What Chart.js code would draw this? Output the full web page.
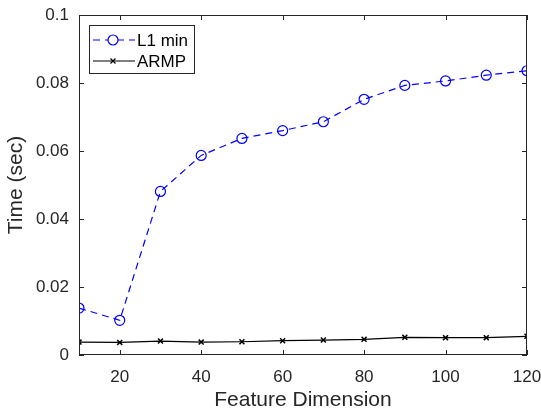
<!DOCTYPE html>
<html lang="en">
<head>
    <meta charset="utf-8">
    <title>Time vs Feature Dimension</title>
    <style>
        html, body { margin: 0; padding: 0; background: #fff; }
        #wrap { width: 541px; height: 414px; }
    </style>
</head>
<body>
    <div id="wrap"><canvas id="chart" width="541" height="414"></canvas></div>

    <script src="https://cdn.jsdelivr.net/npm/chart.js"></script>
    <script>
        const dims = [10, 20, 30, 40, 50, 60, 70, 80, 90, 100, 110, 120];
        const l1Min = [0.0138, 0.0102, 0.0481, 0.0587, 0.0637, 0.0660, 0.0686, 0.0752, 0.0793, 0.0806, 0.0823, 0.0836];
        const armp = [0.0038, 0.0037, 0.0041, 0.0038, 0.0039, 0.0042, 0.0044, 0.0046, 0.0052, 0.0051, 0.0051, 0.0055];
        const xTicks = [20, 40, 60, 80, 100, 120];
        const yTicks = [0, 0.02, 0.04, 0.06, 0.08, 0.1];

        const axisColor = '#262626';
        const fontFamily = '"Liberation Sans", Arial, Helvetica, sans-serif';

        // MATLAB-like box with inward ticks on all four sides
        const boxPlugin = {
            id: 'box',
            afterDraw(chart) {
                const { ctx, chartArea: a, scales: { x, y } } = chart;
                ctx.save();
                ctx.strokeStyle = axisColor;
                ctx.lineWidth = 1;
                ctx.strokeRect(a.left + 0.5, a.top + 0.5, a.right - a.left - 1, a.bottom - a.top - 1);
                ctx.beginPath();
                const len = 5;
                xTicks.forEach(v => {
                    const px = Math.round(x.getPixelForValue(v)) + 0.5;
                    ctx.moveTo(px, a.bottom); ctx.lineTo(px, a.bottom - len);
                    ctx.moveTo(px, a.top); ctx.lineTo(px, a.top + len);
                });
                yTicks.forEach(v => {
                    const py = Math.round(y.getPixelForValue(v)) + 0.5;
                    ctx.moveTo(a.left, py); ctx.lineTo(a.left + len, py);
                    ctx.moveTo(a.right, py); ctx.lineTo(a.right - len, py);
                });
                ctx.stroke();
                ctx.restore();
            }
        };

        // legend box drawn like MATLAB's (line + marker sample)
        const legendPlugin = {
            id: 'matLegend',
            afterDraw(chart) {
                const { ctx, chartArea: a } = chart;
                const left = a.left + 10, top = a.top + 10, w = 105, h = 48;
                ctx.save();
                ctx.fillStyle = '#fff';
                ctx.fillRect(left, top, w, h);
                ctx.strokeStyle = axisColor;
                ctx.lineWidth = 1;
                ctx.strokeRect(left + 0.5, top + 0.5, w, h);
                chart.data.datasets.forEach((ds, i) => {
                    const cy = top + 15 + i * 21;
                    ctx.strokeStyle = ds.borderColor;
                    ctx.lineWidth = ds.borderWidth;
                    ctx.setLineDash(ds.borderDash || []);
                    ctx.beginPath();
                    ctx.moveTo(left + 4, cy); ctx.lineTo(left + 46, cy);
                    ctx.stroke();
                    ctx.setLineDash([]);
                    Chart.helpers.drawPoint(ctx, {
                        pointStyle: ds.pointStyle, radius: ds.pointRadius,
                        borderWidth: ds.pointBorderWidth || 1, rotation: 0
                    }, left + 24, cy);
                    ctx.fillStyle = '#000';
                    ctx.font = '17px ' + fontFamily;
                    ctx.textBaseline = 'middle';
                    ctx.fillText(ds.label, left + 48, cy + 1);
                });
                ctx.restore();
            }
        };

        new Chart(document.getElementById('chart'), {
            type: 'line',
            data: {
                datasets: [
                    {
                        label: 'L1 min',
                        data: dims.map((d, i) => ({ x: d, y: l1Min[i] })),
                        borderColor: '#0000ff',
                        backgroundColor: 'rgba(0,0,0,0)',
                        borderWidth: 1.2,
                        borderDash: [7, 5],
                        pointStyle: 'circle',
                        pointRadius: 5,
                        pointBorderColor: '#0000ff',
                        pointBackgroundColor: 'rgba(0,0,0,0)',
                        pointBorderWidth: 1.2
                    },
                    {
                        label: 'ARMP',
                        data: dims.map((d, i) => ({ x: d, y: armp[i] })),
                        borderColor: '#000000',
                        backgroundColor: '#000000',
                        borderWidth: 1.2,
                        pointStyle: 'crossRot',
                        pointRadius: 3.5,
                        pointBorderColor: '#000000',
                        pointBorderWidth: 1.5
                    }
                ]
            },
            options: {
                responsive: false,
                animation: false,
                layout: { padding: { top: 15, right: 14, left: 0, bottom: 0 } },
                plugins: {
                    legend: { display: false },
                    tooltip: { enabled: false }
                },
                scales: {
                    x: {
                        type: 'linear',
                        min: 10,
                        max: 120,
                        afterBuildTicks: s => { s.ticks = xTicks.map(v => ({ value: v })); },
                        afterFit: s => { s.height = 59; s.paddingLeft = 0; s.paddingRight = 0; },
                        grid: { display: false, drawTicks: false },
                        border: { display: false },
                        ticks: {
                            color: axisColor,
                            padding: 12,
                            font: { family: fontFamily, size: 17 },
                            maxRotation: 0
                        },
                        title: {
                            display: true,
                            text: 'Feature Dimension',
                            color: axisColor,
                            padding: { top: 0, bottom: 1 },
                            font: { family: fontFamily, size: 21 }
                        }
                    },
                    y: {
                        min: 0,
                        max: 0.1,
                        afterBuildTicks: s => { s.ticks = yTicks.map(v => ({ value: v })); },
                        afterFit: s => { s.width = 79; s.paddingTop = 0; s.paddingBottom = 0; },
                        grid: { display: false, drawTicks: false },
                        border: { display: false },
                        ticks: {
                            color: axisColor,
                            padding: 10,
                            font: { family: fontFamily, size: 17 },
                            callback: v => String(+v.toFixed(2))
                        },
                        title: {
                            display: true,
                            text: 'Time (sec)',
                            color: axisColor,
                            padding: { top: 4, bottom: 0 },
                            font: { family: fontFamily, size: 21 }
                        }
                    }
                }
            },
            plugins: [boxPlugin, legendPlugin]
        });
    </script>
</body>
</html>
